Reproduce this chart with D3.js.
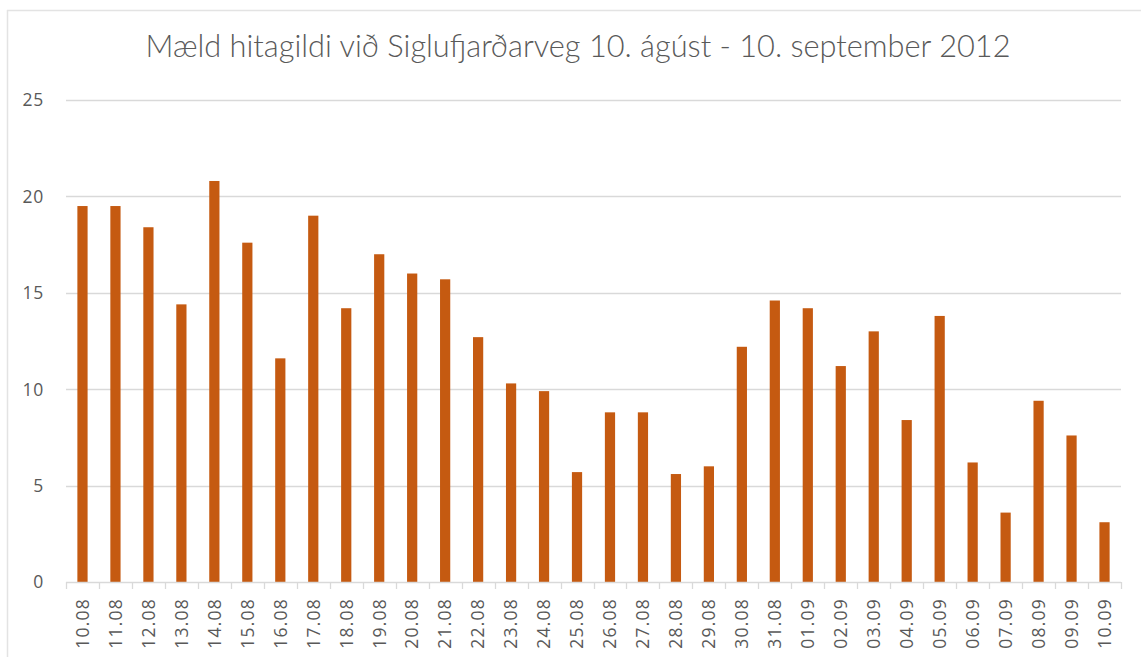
<!DOCTYPE html>
<html lang="is">
<head>
<meta charset="utf-8">
<title>Mæld hitagildi við Siglufjarðarveg</title>
<script src="https://cdn.jsdelivr.net/npm/d3@7"></script>
<style>
  html, body { margin: 0; padding: 0; background: #ffffff; }
  svg { display: block; }
  text { font-family: "Open Sans", Lato, "DejaVu Sans", sans-serif; fill: #595959; }
  .title { font-family: Lato, "Open Sans", sans-serif; }
</style>
</head>
<body>
<svg id="chart" width="1141" height="657"></svg>
<script>
// Daily measured temperatures (°C)
const days = ["10.08","11.08","12.08","13.08","14.08","15.08","16.08","17.08","18.08","19.08",
  "20.08","21.08","22.08","23.08","24.08","25.08","26.08","27.08","28.08","29.08","30.08","31.08",
  "01.09","02.09","03.09","04.09","05.09","06.09","07.09","08.09","09.09","10.09"];
const temps = [19.5, 19.5, 18.4, 14.4, 20.8, 17.6, 11.6, 19.0, 14.2, 17.0,
  16.0, 15.7, 12.7, 10.3, 9.9, 5.7, 8.8, 8.8, 5.6, 6.0, 12.2, 14.6,
  14.2, 11.2, 13.0, 8.4, 13.8, 6.2, 3.6, 9.4, 7.6, 3.1];
const yTicks = [0, 5, 10, 15, 20, 25];
const title = "Mæld hitagildi við Siglufjarðarveg 10. ágúst - 10. september 2012";

const svg = d3.select("#chart");
const W = 1141, H = 657;
const plot = { left: 66, right: 1121, top: 100, bottom: 582 };

// chart frame (top and left edges)
svg.append("line").attr("x1", 7).attr("x2", W).attr("y1", 10.5).attr("y2", 10.5)
  .attr("stroke", "#e3e3e3").attr("stroke-width", 1.5);
svg.append("line").attr("x1", 7.5).attr("x2", 7.5).attr("y1", 10).attr("y2", H)
  .attr("stroke", "#e3e3e3").attr("stroke-width", 1.5);

const x = d3.scaleBand().domain(days).range([plot.left, plot.right]).paddingInner(0.69).paddingOuter(0.345);
const xEdges = d3.scaleLinear().domain([0, days.length]).range([plot.left, plot.right]);
const y = d3.scaleLinear().domain([0, 25]).range([plot.bottom, plot.top]);

// horizontal gridlines
svg.append("g").selectAll("line").data(yTicks.filter(t => t > 0)).join("line")
  .attr("x1", plot.left).attr("x2", plot.right)
  .attr("y1", d => Math.round(y(d)) + 0.5).attr("y2", d => Math.round(y(d)) + 0.5)
  .attr("stroke", "#d9d9d9").attr("stroke-width", 1.3);

// y tick labels
svg.append("g").selectAll("text").data(yTicks).join("text")
  .attr("x", 44).attr("y", d => y(d)).attr("dy", "0.36em")
  .attr("text-anchor", "end").attr("font-size", 17.5).attr("letter-spacing", 0.8)
  .text(d => d);

// bars
svg.append("g").selectAll("rect").data(temps).join("rect")
  .attr("x", (d, i) => x(days[i]))
  .attr("width", x.bandwidth())
  .attr("y", d => y(d))
  .attr("height", d => y(0) - y(d))
  .attr("fill", "#c55a11");

// category axis line and tick marks between categories
const axis = svg.append("g");
axis.append("line").attr("x1", plot.left).attr("x2", plot.right)
  .attr("y1", plot.bottom + 0.5).attr("y2", plot.bottom + 0.5)
  .attr("stroke", "#d9d9d9").attr("stroke-width", 1.3);
axis.selectAll("line.tick").data(d3.range(days.length + 1)).join("line")
  .attr("class", "tick")
  .attr("x1", i => Math.round(xEdges(i)) + 0.5).attr("x2", i => Math.round(xEdges(i)) + 0.5)
  .attr("y1", plot.bottom).attr("y2", plot.bottom + 7)
  .attr("stroke", "#d9d9d9").attr("stroke-width", 1.3);

// rotated day labels
axis.selectAll("text").data(days).join("text")
  .attr("transform", d => `translate(${x(d) + x.bandwidth() / 2},598) rotate(-90)`)
  .attr("text-anchor", "end").attr("dy", "0.36em")
  .attr("font-size", 17.5).attr("letter-spacing", 1.2)
  .text(d => d);

// title, sized to span its line
const t = svg.append("text").attr("class", "title")
  .attr("x", 578).attr("y", 57).attr("text-anchor", "middle")
  .attr("font-size", 24).attr("font-weight", 300)
  .text(title);
const w = t.node().getComputedTextLength();
t.attr("font-size", 24 * 865 / w);
</script>
</body>
</html>
